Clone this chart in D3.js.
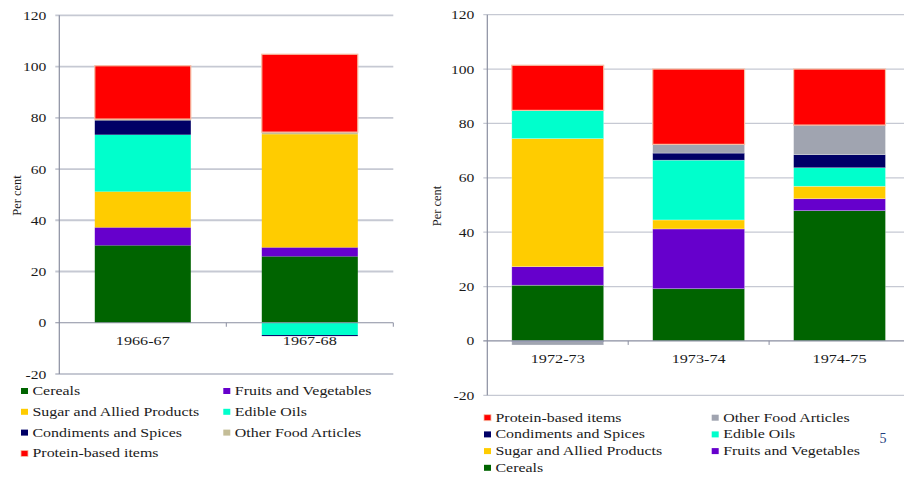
<!DOCTYPE html>
<html>
<head>
<meta charset="utf-8">
<script src="https://cdn.jsdelivr.net/npm/d3@7"></script>
<style>
body { margin: 0; background: #fff; }
svg { display: block; }
text { font-family: "Times New Roman", "Liberation Serif", Times, serif; }
</style>
</head>
<body>
<svg id="chart" width="904" height="478"></svg>
<script>
// data (per cent)
const years = ["1966-67", "1967-68", "1972-73", "1973-74", "1974-75"];
const seriesNames = ["Cereals", "Fruits and Vegetables", "Sugar and Allied Products",
    "Edible Oils", "Condiments and Spices", "Other Food Articles", "Protein-based items"];
const cereals    = [30.2, 25.9, 20.5, 19.2, 47.9];
const fruitsVeg  = [7.0, 3.5, 6.8, 22.0, 4.4];
const sugar      = [14.0, 44.2, 47.1, 3.3, 4.6];
const edibleOils = [22.2, -4.8, 10.4, 22.0, 6.8];
const condiments = [5.6, -0.4, -0.3, 2.6, 4.8];
const otherFood  = [0.5, 0.8, -1.2, 3.2, 10.9];
const protein    = [20.8, 30.4, 16.6, 27.7, 20.6];
const yTicks = [-20, 0, 20, 40, 60, 80, 100, 120];

const seriesValues = [cereals, fruitsVeg, sugar, edibleOils, condiments, otherFood, protein];
const table = years.map((year, i) => {
    const row = { year };
    seriesNames.forEach((name, k) => row[name] = seriesValues[k][i]);
    return row;
});

const FONT = "'Times New Roman', 'Liberation Serif', Times, serif";
const svg = d3.select("#chart").attr("font-family", FONT);
const SX = 1.2; // the picture is a bit wider than tall, text looks stretched

function place(sel, x, y, sx = SX) {
    return sel.attr("transform", `translate(${x},${y}) scale(${sx},1)`);
}

function drawChart(cfg) {
    const rows = table.slice(cfg.from, cfg.to);
    const color = d3.scaleOrdinal().domain(seriesNames).range(cfg.colors);

    const x = d3.scaleBand()
        .domain(rows.map(d => d.year))
        .range([cfg.left, cfg.right]);
    const y = d3.scaleLinear().domain([-20, 120]).range([cfg.bottom, cfg.top]);

    const g = svg.append("g");

    // grid
    g.selectAll(".grid")
        .data(yTicks.filter(t => t !== 0))
        .join("line")
        .attr("x1", cfg.left - 4)
        .attr("x2", cfg.right)
        .attr("y1", d => y(d))
        .attr("y2", d => y(d))
        .attr("stroke", "#c6c9d3")
        .attr("stroke-width", cfg.gridWidth);

    // tick labels
    g.selectAll(".ylab")
        .data(yTicks)
        .join("text")
        .attr("text-anchor", "end")
        .attr("dy", "0.35em")
        .attr("font-size", 13)
        .attr("font-family", FONT)
        .attr("fill", "#1a1a1a")
        .text(d => d)
        .each(function (d) { place(d3.select(this), cfg.left - 13, y(d)); });

    const stack = d3.stack()
        .keys(seriesNames)
        .offset(d3.stackOffsetDiverging);
    const layers = stack(rows);
    const bw = x.step() * cfg.barFrac;

    g.selectAll(".layer")
        .data(layers)
        .join("g")
        .attr("fill", d => color(d.key))
        .selectAll("rect")
        .data(d => d.map(v => Object.assign(v, { key: d.key })))
        .join("rect")
        .attr("x", d => x(d.data.year) + (x.step() - bw) / 2)
        .attr("width", bw)
        .attr("y", d => y(Math.max(d[0], d[1])))
        .attr("height", d => Math.abs(y(d[0]) - y(d[1])))
        .attr("stroke", d => d.key === "Protein-based items" ? "#f7bfa5" : cfg.segStroke)
        .attr("stroke-width", d => d.key === "Protein-based items" ? 1.2 : 0.6);

    // axis lines
    g.append("line")
        .attr("x1", cfg.left).attr("x2", cfg.left)
        .attr("y1", cfg.top).attr("y2", cfg.bottom)
        .attr("stroke", "#8a8ea0").attr("stroke-width", 1.2);
    g.append("line")
        .attr("x1", cfg.left - 4).attr("x2", cfg.right)
        .attr("y1", y(0)).attr("y2", y(0))
        .attr("stroke", "#8a8ea0").attr("stroke-width", 1.2);
    g.selectAll(".xtick")
        .data(rows)
        .join("line")
        .attr("x1", d => x(d.year) + x.step())
        .attr("x2", d => x(d.year) + x.step())
        .attr("y1", y(0))
        .attr("y2", y(0) + 4)
        .attr("stroke", "#8a8ea0");

    g.selectAll(".xlab")
        .data(rows)
        .join("text")
        .attr("text-anchor", "middle")
        .attr("font-size", 13.5)
        .attr("font-family", FONT)
        .attr("fill", "#1a1a1a")
        .text(d => d.year)
        .each(function (d) { place(d3.select(this), x(d.year) + x.step() / 2, cfg.xLabelY); });

    g.append("text")
        .attr("transform", `translate(${cfg.titleX},${cfg.titleY}) rotate(-90)`)
        .attr("text-anchor", "middle")
        .attr("dy", "0.35em")
        .attr("font-size", 12.5)
        .attr("font-family", FONT)
        .attr("fill", "#1a1a1a")
        .text("Per cent");

    // legend
    const items = g.selectAll(".leg")
        .data(cfg.legend)
        .join("g");
    items.append("rect")
        .attr("x", d => cfg.legCols[d.col])
        .attr("y", d => cfg.legY0 + d.row * cfg.legDy - 7)
        .attr("width", 7)
        .attr("height", 6)
        .attr("fill", d => color(d.name))
        .attr("stroke", d => d.name === "Protein-based items" ? "#f7bfa5" : "none")
        .attr("stroke-width", 0.8);
    items.append("text")
        .attr("font-size", 13.5)
        .attr("font-family", FONT)
        .attr("fill", "#1a1a1a")
        .text(d => d.name)
        .each(function (d) {
            place(d3.select(this), cfg.legCols[d.col] + 11.5, cfg.legY0 + d.row * cfg.legDy, 1.18);
        });
}

drawChart({
    from: 0, to: 2,
    left: 59.3, right: 393.3, top: 15.3, bottom: 374,
    barFrac: 0.575, gridWidth: 1.8, segStroke: "none",
    colors: ["#006400", "#6600cc", "#ffcc00", "#00ffcc", "#000066", "#c4bd97", "#ff0000"],
    xLabelY: 345, titleX: 16.7, titleY: 195.5,
    legCols: [21, 223.3], legY0: 395, legDy: 20.8,
    legend: [
        { name: "Cereals", col: 0, row: 0 },
        { name: "Fruits and Vegetables", col: 1, row: 0 },
        { name: "Sugar and Allied Products", col: 0, row: 1 },
        { name: "Edible Oils", col: 1, row: 1 },
        { name: "Condiments and Spices", col: 0, row: 2 },
        { name: "Other Food Articles", col: 1, row: 2 },
        { name: "Protein-based items", col: 0, row: 3 }
    ]
});

drawChart({
    from: 2, to: 5,
    left: 487.3, right: 910, top: 14.7, bottom: 395.3,
    barFrac: 0.652, gridWidth: 1.2, segStroke: "rgba(255,255,255,0.45)",
    colors: ["#006400", "#6600cc", "#ffcc00", "#00ffcc", "#000066", "#a0a4b0", "#ff0000"],
    xLabelY: 363.3, titleX: 436.7, titleY: 206,
    legCols: [484, 711.7], legY0: 421.7, legDy: 16.7,
    legend: [
        { name: "Protein-based items", col: 0, row: 0 },
        { name: "Other Food Articles", col: 1, row: 0 },
        { name: "Condiments and Spices", col: 0, row: 1 },
        { name: "Edible Oils", col: 1, row: 1 },
        { name: "Sugar and Allied Products", col: 0, row: 2 },
        { name: "Fruits and Vegetables", col: 1, row: 2 },
        { name: "Cereals", col: 0, row: 3 }
    ]
});

svg.append("text")
    .attr("x", 883)
    .attr("y", 443)
    .attr("text-anchor", "middle")
    .attr("font-size", 14)
    .attr("font-family", FONT)
    .attr("fill", "#1f3f7f")
    .text("5");
</script>
</body>
</html>
